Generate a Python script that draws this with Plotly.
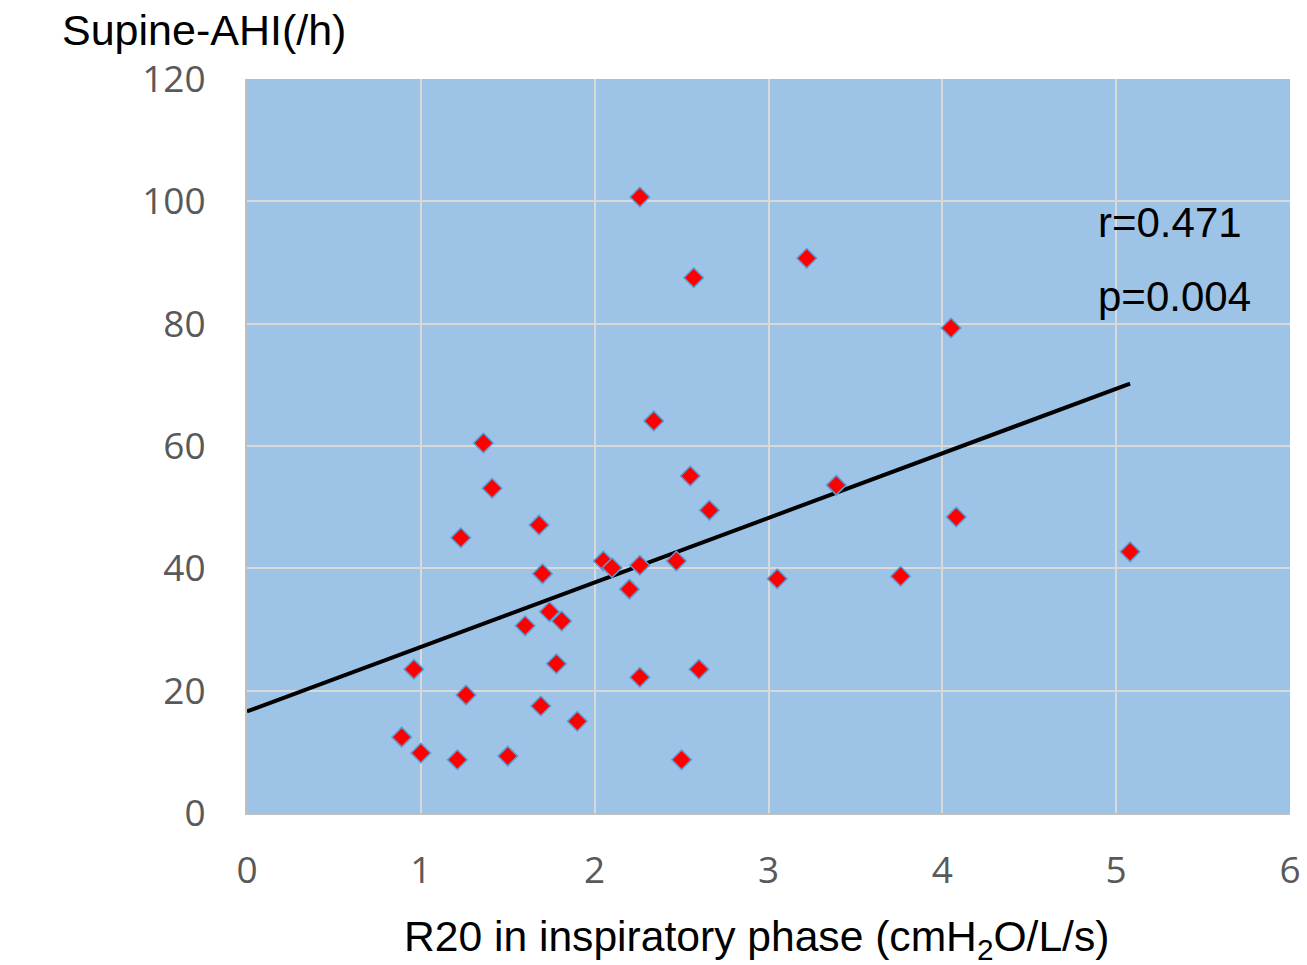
import plotly.graph_objects as go

# R20 in inspiratory phase (cmH2O/L/s)
r20 = [2.26, 2.57, 3.22, 4.05, 2.34, 1.36, 2.55, 1.41, 3.39, 2.66,
       4.08, 1.68, 1.23, 5.08, 2.05, 2.10, 2.26, 2.47, 1.70, 3.76,
       3.05, 2.20, 1.74, 1.81, 1.60, 1.78, 0.96, 2.60, 2.26, 1.26,
       1.69, 1.90, 0.89, 1.00, 1.50, 1.21, 2.50]
# Supine AHI (/h)
ahi = [100.7, 87.5, 90.7, 79.3, 64.1, 60.5, 55.1, 53.1, 53.6, 49.5,
       48.4, 47.1, 45.0, 42.7, 41.2, 40.1, 40.5, 41.2, 39.1, 38.7,
       38.3, 36.6, 32.9, 31.4, 30.6, 24.4, 23.5, 23.5, 22.2, 19.3,
       17.5, 15.0, 12.4, 9.8, 9.3, 8.7, 8.7]

# regression line parameters
fit_intercept = 16.6
fit_slope = 10.55

x_ticks = [0, 1, 2, 3, 4, 5, 6]
y_ticks = [0, 20, 40, 60, 80, 100, 120]

stats_r = "r=0.471"
stats_p = "p=0.004"

fit_x = [0, max(r20)]
fit_y = [fit_intercept + fit_slope * v for v in fit_x]

fig = go.Figure()
fig.add_trace(go.Scatter(
    x=fit_x, y=fit_y, mode="lines",
    line=dict(color="black", width=4), hoverinfo="skip", showlegend=False))
fig.add_trace(go.Scatter(
    x=r20, y=ahi, mode="markers",
    marker=dict(symbol="diamond", size=15, color="#ff0000",
                line=dict(color="#5b9bd5", width=1.5)),
    showlegend=False))

tick_font = dict(family="Open Sans", size=37, color="#595959")
text_font = dict(family="Liberation Sans, Arial", size=43, color="black")
xt_font = dict(family="Liberation Sans, Arial", size=42.6, color="black")
stat_font = dict(family="Liberation Sans, Arial", size=42, color="black")

L, R, T, B = 247, 17, 79, 152
W = 1307 - L - R

fig.update_layout(
    width=1307, height=965,
    margin=dict(l=L, r=R, t=T, b=B, autoexpand=False),
    paper_bgcolor="white",
    plot_bgcolor="#9dc3e6",
    xaxis=dict(range=[0, 6], tickvals=x_ticks, showgrid=True,
               gridcolor="#d9d9d9", gridwidth=2, zeroline=False,
               showline=True, linecolor="#bfbfbf", linewidth=2,
               tickfont=tick_font, ticks="", ticklabelstandoff=24,
               automargin=False),
    yaxis=dict(range=[0, 120], tickvals=y_ticks, showgrid=True,
               gridcolor="#d9d9d9", gridwidth=2, zeroline=False,
               showline=True, linecolor="#bfbfbf", linewidth=2,
               tickfont=tick_font, ticks="", ticklabelstandoff=32,
               automargin=False),
    annotations=[
        dict(text="Supine-AHI(/h)", xref="paper", yref="paper",
             x=(60 - L) / W, y=1.0668, xanchor="left", yanchor="middle",
             showarrow=False, font=text_font),
        dict(text="R20 in inspiratory phase (cmH<sub>2</sub>O/L/s)",
             xref="paper", yref="paper", x=(756 - L) / W, y=-0.172,
             xanchor="center", yanchor="middle", showarrow=False,
             font=xt_font),
        dict(text=stats_r, xref="paper", yref="paper", x=(1096 - L) / W,
             y=0.805, xanchor="left", yanchor="middle", showarrow=False,
             font=stat_font),
        dict(text=stats_p, xref="paper", yref="paper", x=(1096 - L) / W,
             y=0.703, xanchor="left", yanchor="middle", showarrow=False,
             font=stat_font),
    ],
)

fig.write_html("out.html")
